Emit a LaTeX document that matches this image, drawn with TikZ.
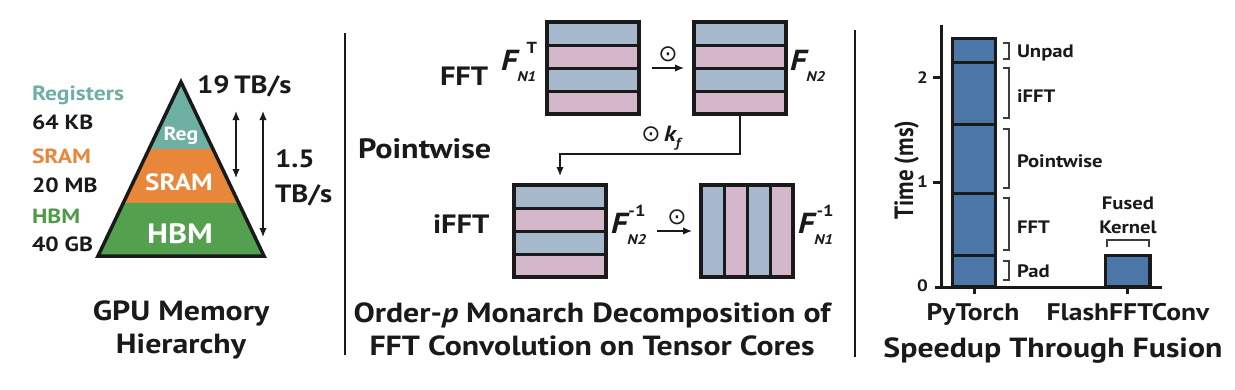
\documentclass[tikz,border=0pt]{standalone}
\usepackage{graphicx}
\usepackage{fontspec}
\setmainfont{PT Sans}
\newfontfamily\dejavu{DejaVu Sans}
\usetikzlibrary{arrows.meta,calc}
\newcommand{\myfs}[1]{\fontsize{#1}{#1}\selectfont}
\newcommand{\hs}[1]{\scalebox{1.15}[1]{#1}}
\newcommand{\vs}[1]{\scalebox{1}[1.15]{#1}}
% F label: #1 superscript, #2 subscript, #3 shift of superscript
\newcommand{\Fmat}[3]{\hs{{\myfs{29}\bfseries\itshape F}\rlap{\hspace{#3}\raisebox{17pt}{\myfs{16}\bfseries\upshape #1}}\raisebox{-11pt}{\myfs{14}\bfseries\itshape #2}}}
\definecolor{cteal}{HTML}{6EB0A3}
\definecolor{corange}{HTML}{E8873A}
\definecolor{cgreen}{HTML}{53A04F}
\definecolor{tgreen}{HTML}{4E9A48}
\definecolor{mblue}{HTML}{A6B9CC}
\definecolor{mpink}{HTML}{D4B7CB}
\definecolor{barblue}{HTML}{4A76A8}
\definecolor{ink}{HTML}{1A1A1A}
\begin{document}
\begin{tikzpicture}[x=1pt,y=-1pt,
  txt/.style={inner sep=0pt, outer sep=0pt, text=ink, font=\bfseries},
  captxt/.style={txt, anchor=base, font=\bfseries\myfs{27.7}},
  matbox/.style={draw=ink, line width=3.5pt, minimum width=92pt, minimum height=92pt, inner sep=0pt, outer sep=0pt},
  conn/.style={ink, line width=1.4pt, -{Latex[length=9pt,width=7.5pt]}},
  dconn/.style={ink, line width=1.4pt, {Latex[length=9pt,width=7.5pt]}-{Latex[length=9pt,width=7.5pt]}},
  brk/.style={draw=ink!85, line width=1.2pt},
  barst/.style={fill=barblue, draw=ink, line width=3.5pt},
  axis/.style={ink, line width=3pt},
  divider/.style={ink, line width=1.2pt}]
\useasboundingbox (0,0) rectangle (1235,389);

% ---------------- Panel 1: memory hierarchy ----------------
\begin{scope}
  \clip (181,82) -- (98,256) -- (264,256) -- cycle;
  \fill[cteal] (90,70) rectangle (275,149);
  \fill[corange] (90,149) rectangle (275,203);
  \fill[cgreen] (90,203) rectangle (275,262);
\end{scope}
\draw[ink, line width=3.5pt, line join=miter] (181,82) -- (98,256) -- (264,256) -- cycle;

\node[txt, anchor=base, text=white, font=\bfseries\myfs{19}] (reg) at (181,140) {\hs{Reg}};
\node[txt, anchor=base, text=white, font=\bfseries\myfs{23.5}] (sram) at (179,190) {\hs{SRAM}};
\node[txt, anchor=base, text=white, font=\bfseries\myfs{28}] (hbm) at (180,243) {\hs{HBM}};

\node[txt, anchor=base west, text=cteal, font=\bfseries\myfs{20.5}] (lreg) at (32,100) {\hs{Registers}};
\node[txt, anchor=base west, font=\bfseries\myfs{20.5}] (lregs) at (32,129) {\hs{64 KB}};
\node[txt, anchor=base west, text=corange, font=\bfseries\myfs{20.5}] (lsram) at (32,163) {\hs{SRAM}};
\node[txt, anchor=base west, font=\bfseries\myfs{20.5}] (lsrams) at (32,192) {\hs{20 MB}};
\node[txt, anchor=base west, text=tgreen, font=\bfseries\myfs{20.5}] (lhbm) at (32,223) {\hs{HBM}};
\node[txt, anchor=base west, font=\bfseries\myfs{20.5}] (lhbms) at (32,251) {\hs{40 GB}};

\node[txt, anchor=base west, font=\bfseries\myfs{25}] (bw1) at (197,93) {\hs{19\,TB/s}};
\node[txt, anchor=base west, font=\bfseries\myfs{25}] (bw2a) at (275,167) {\hs{1.5}};
\node[txt, anchor=base west, font=\bfseries\myfs{25}] (bw2b) at (275,202) {\hs{TB/s}};

\coordinate (a1t) at (236,111); \coordinate (a1b) at (236,178);
\coordinate (a2t) at (263,111); \coordinate (a2b) at (263,237);
\draw[dconn] (a1t) -- (a1b);
\draw[dconn] (a2t) -- (a2b);

\node[captxt] (c1a) at (181,320) {\hs{GPU Memory}};
\node[captxt] (c1b) at (181,353) {\hs{Hierarchy}};

% dividers
\coordinate (d1t) at (345,33); \coordinate (d1b) at (345,355);
\coordinate (d2t) at (855,30); \coordinate (d2b) at (855,357);
\draw[divider] (d1t) -- (d1b);
\draw[divider] (d2t) -- (d2b);

% ---------------- Panel 2: Monarch decomposition ----------------
\foreach \x/\y in {547/22, 694/22, 514/185}{
  \fill[mblue] (\x,\y) rectangle ++(92,23);
  \fill[mpink] (\x,\y+23) rectangle ++(92,23);
  \fill[mblue] (\x,\y+46) rectangle ++(92,23);
  \fill[mpink] (\x,\y+69) rectangle ++(92,23);
  \foreach \k in {1,2,3}{\draw[ink, line width=3pt] (\x,\y+23*\k) -- ++(92,0);}
}
\fill[mblue] (701,185) rectangle ++(23,92);
\fill[mpink] (724,185) rectangle ++(23,92);
\fill[mblue] (747,185) rectangle ++(23,92);
\fill[mpink] (770,185) rectangle ++(23,92);
\foreach \k in {1,2,3}{\draw[ink, line width=3pt] (701+23*\k,185) -- ++(0,92);}

\node[matbox] (m1) at (593,68) {};
\node[matbox] (m2) at (740,68) {};
\node[matbox] (m3) at (560,231) {};
\node[matbox] (m4) at (747,231) {};

\node[txt, anchor=base west, font=\bfseries\myfs{26.5}] (lfft) at (440,85) {\hs{FFT}};
\node[txt, anchor=base west, font=\bfseries\myfs{28}] (lpw) at (358,158) {\hs{Pointwise}};
\node[txt, anchor=base west, font=\bfseries\myfs{26.5}] (lifft) at (433,233) {\hs{iFFT}};

\node[txt, anchor=base west] (f1) at (501,70) {\Fmat{T}{N1}{8pt}};
\node[txt, anchor=base west] (f2) at (790,70) {\Fmat{}{N2}{0pt}};
\node[txt, anchor=base west] (f3) at (611,233) {\Fmat{-1}{N2}{1pt}};
\node[txt, anchor=base west] (f4) at (798,233) {\Fmat{-1}{N1}{2pt}};

\draw[conn] ([xshift=13pt]m1.east) -- ([xshift=-10pt]m2.west);
\node[txt, font=\dejavu\myfs{23}] (o1) at (668,54) {⊙};
\draw[conn] ([xshift=51pt]m3.east) -- ([xshift=-9pt]m4.west);
\node[txt, font=\dejavu\myfs{23}] (o2) at (677,217) {⊙};

\draw[conn] (m2.south) -- ++(0,40) -| ([yshift=9pt]m3.north);
\node[txt, font=\dejavu\myfs{23}] (o3) at (651,134) {⊙};
\node[txt, anchor=base west] (kf) at (664,141) {\hs{{\myfs{22}\bfseries\itshape k}\raisebox{-6pt}{\myfs{13}\bfseries\itshape f}}};

\node[captxt] (c2a) at (592,322) {\hs{Order-\textit{p} Monarch Decomposition of}};
\node[captxt] (c2b) at (592,355) {\hs{FFT Convolution on Tensor Cores}};

% ---------------- Panel 3: timing bar chart ----------------
\coordinate (yax) at (941,25);
\coordinate (orig) at (941,287);
\coordinate (xl) at (935,287);
\coordinate (xr) at (1162,287);

\draw[barst] (952.5,38.5) rectangle (995.5,287);
\foreach \yy in {62.7,124.3,193.3,255}{\draw[ink, line width=3pt] (952.5,\yy) -- (995.5,\yy);}
\draw[barst] (1105.5,255.5) rectangle (1150,287);

\draw[axis] (yax) -- (orig);
\draw[axis] (xl) -- (xr);
\foreach \yy in {77,182}{\draw[axis] (933,\yy) -- (941,\yy);}
\foreach \xx in {974,1127}{\draw[axis] (\xx,287) -- (\xx,294);}

\node[txt, anchor=base east, font=\bfseries\myfs{16.5}] (t2) at (928,83) {\hs{2}};
\node[txt, anchor=base east, font=\bfseries\myfs{16.5}] (t1) at (928,187) {\hs{1}};
\node[txt, anchor=base east, font=\bfseries\myfs{16.5}] (t0) at (928,291) {\hs{0}};
\node[txt, anchor=base, rotate=90, font=\bfseries\myfs{23}] (ylab) at (913,170) {\vs{Time (ms)}};

\foreach \a/\b in {43/59, 68/118, 129/188, 198/250, 261/280}{
  \draw[brk] (1003,\a) -- (1009,\a) -- (1009,\b) -- (1003,\b);
}
\node[txt, anchor=base west, font=\bfseries\myfs{18}] (bu) at (1017,57) {\hs{Unpad}};
\node[txt, anchor=base west, font=\bfseries\myfs{18}] (bi) at (1017,102) {\hs{iFFT}};
\node[txt, anchor=base west, font=\bfseries\myfs{18}] (bp) at (1017,167) {\hs{Pointwise}};
\node[txt, anchor=base west, font=\bfseries\myfs{18}] (bf) at (1017,233) {\hs{FFT}};
\node[txt, anchor=base west, font=\bfseries\myfs{18}] (bpad) at (1017,277) {\hs{Pad}};

\draw[brk] (1107,247) -- (1107,240) -- (1149,240) -- (1149,247);
\node[txt, anchor=base, font=\bfseries\myfs{18}] (fu1) at (1128,209) {\hs{Fused}};
\node[txt, anchor=base, font=\bfseries\myfs{18}] (fu2) at (1128,233) {\hs{Kernel}};

\node[txt, anchor=base, font=\bfseries\myfs{24}] (xp) at (973,320) {\hs{PyTorch}};
\node[txt, anchor=base, font=\bfseries\myfs{24}] (xf) at (1128,320) {\hs{FlashFFTConv}};
\node[captxt] (c3) at (1053,357) {\hs{Speedup Through Fusion}};
\end{tikzpicture}
\end{document}
